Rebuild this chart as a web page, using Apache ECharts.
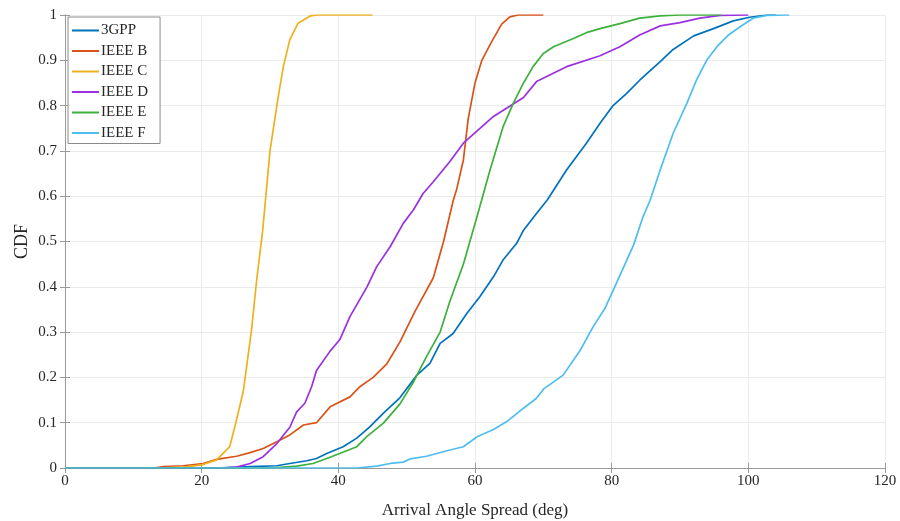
<!DOCTYPE html>
<html>
<head>
<meta charset="utf-8">
<script src="https://cdn.jsdelivr.net/npm/echarts@6/dist/echarts.min.js"></script>
<style>
  html, body { margin: 0; padding: 0; background: #fff; }
  #chart { width: 900px; height: 521px; }
</style>
</head>
<body>
<div id="chart"></div>
<script>
// CDF curves, [angle spread (deg), CDF]
const gpp3 = [[0,0],[22,0],[27.1,0.003],[31,0.005],[32.9,0.01],[35.4,0.016],[36.8,0.021],[38.3,0.032],[40.7,0.047],[42.7,0.066],[44.6,0.091],[46.6,0.121],[49,0.155],[51.5,0.205],[53.4,0.231],[54.9,0.275],[56.8,0.297],[58.8,0.341],[60.7,0.378],[62.7,0.422],[64.1,0.459],[66.1,0.496],[67.1,0.525],[69,0.562],[70.6,0.592],[73.4,0.658],[76.3,0.717],[78.3,0.761],[80.2,0.8],[82.2,0.827],[84.1,0.856],[87.1,0.897],[89,0.924],[92,0.954],[94.9,0.97],[97.8,0.987],[100.2,0.995],[102.7,1],[104,1]]
const ieeeB = [[0,0],[13,0],[14.4,0.003],[17.3,0.005],[20.2,0.01],[22.2,0.019],[25.1,0.026],[27.1,0.034],[29,0.043],[31,0.058],[32.9,0.073],[34.9,0.095],[36.8,0.1],[38.8,0.135],[41.7,0.157],[43.2,0.18],[45.1,0.2],[47.1,0.23],[49,0.278],[51.2,0.345],[53.9,0.42],[55.4,0.5],[56.8,0.59],[57.3,0.614],[58.3,0.68],[59,0.77],[60,0.85],[61,0.9],[62.4,0.94],[63.9,0.98],[65.1,0.996],[66.3,1],[70,1]]
const ieeeC = [[0,0],[14,0],[18,0.003],[20,0.007],[22.2,0.018],[24.1,0.047],[25,0.1],[26.1,0.17],[27.3,0.305],[28.05,0.415],[28.9,0.52],[30,0.7],[31.1,0.81],[31.95,0.886],[32.9,0.945],[34.1,0.982],[35.9,0.998],[37,1],[45,1]]
const ieeeD = [[0,0],[23,0],[25.1,0.002],[27.1,0.01],[29,0.025],[31,0.054],[32.9,0.09],[33.9,0.124],[35.1,0.143],[36.1,0.18],[36.8,0.215],[38.8,0.258],[40.2,0.283],[41.7,0.334],[44.2,0.4],[45.6,0.444],[47.6,0.489],[49.5,0.54],[51,0.57],[52.4,0.606],[53.9,0.632],[56.3,0.676],[58.3,0.717],[62.7,0.776],[67.1,0.818],[69,0.853],[73.4,0.886],[78.3,0.91],[81.2,0.93],[84.1,0.956],[87.1,0.976],[90,0.983],[92.9,0.993],[95.9,0.999],[100,1]]
const ieeeE = [[0,0],[28,0],[31,0.001],[33.9,0.004],[36.3,0.01],[38.3,0.021],[40.2,0.032],[42.7,0.047],[44.2,0.07],[46.6,0.099],[49,0.141],[51,0.19],[52.9,0.246],[54.9,0.3],[56.3,0.367],[58.3,0.45],[60.3,0.555],[62.2,0.658],[64.1,0.753],[65.6,0.805],[67.1,0.85],[68.5,0.886],[70,0.915],[71.5,0.93],[74.4,0.948],[76.3,0.961],[78.3,0.97],[81.2,0.981],[84.1,0.993],[87.1,0.998],[90,1],[96,1]]
const ieeeF = [[0,0],[42.7,0],[45.6,0.004],[47.6,0.01],[49.5,0.013],[50.5,0.02],[52.9,0.026],[55.9,0.038],[58.3,0.047],[60.3,0.069],[62.7,0.085],[64.6,0.102],[67.1,0.132],[69,0.154],[70,0.174],[72.9,0.205],[75.4,0.26],[77.3,0.312],[79,0.352],[80.7,0.408],[83.2,0.492],[84.6,0.555],[85.6,0.59],[87.1,0.658],[89,0.739],[91,0.805],[92.4,0.856],[93.9,0.9],[95.4,0.93],[97.1,0.956],[98.8,0.974],[100.7,0.993],[102.7,0.999],[105.6,1],[106,1]]

const seriesNames = ['3GPP', 'IEEE B', 'IEEE C', 'IEEE D', 'IEEE E', 'IEEE F']
const seriesData = [gpp3, ieeeB, ieeeC, ieeeD, ieeeE, ieeeF]
const colors = ['#0072BD', '#D95319', '#EDB120', '#9B30E0', '#3DB03D', '#4DBEEE']

const font = '"Liberation Serif", "Times New Roman", serif'
const frame = '#9a9a9a'

const chart = echarts.init(document.getElementById('chart'))

const tickStyle = { show: true, inside: true, length: 5, lineStyle: { color: frame } }

chart.setOption({
  animation: false,
  color: colors,
  textStyle: { fontFamily: font },
  grid: { left: 65, right: 15, top: 15, bottom: 53, outerBoundsMode: 'none' },
  legend: {
    orient: 'vertical',
    left: 68,
    top: 17,
    data: seriesNames,
    icon: 'rect',
    itemWidth: 27,
    itemHeight: 2,
    itemGap: 5.5,
    padding: [6, 12, 3, 4],
    borderColor: '#8a8a8a',
    borderWidth: 1,
    backgroundColor: '#fff',
    textStyle: { fontFamily: font, fontSize: 15, color: '#262626', padding: [0, 0, 0, -3] }
  },
  xAxis: [{
    type: 'value',
    min: 0, max: 120, interval: 20,
    name: 'Arrival Angle Spread (deg)',
    nameLocation: 'middle',
    nameGap: 34,
    nameTextStyle: { fontFamily: font, fontSize: 17, color: '#262626' },
    axisLine: { show: true, lineStyle: { color: frame } },
    axisTick: tickStyle,
    axisLabel: { fontFamily: font, fontSize: 15, color: '#262626', margin: 6 },
    splitLine: { show: true, lineStyle: { color: '#ebebeb' } }
  }, {
    type: 'value',
    position: 'top',
    min: 0, max: 120, interval: 20,
    axisLine: { show: true, lineStyle: { color: frame } },
    axisTick: tickStyle,
    axisLabel: { show: false },
    splitLine: { show: false }
  }],
  yAxis: [{
    type: 'value',
    min: 0, max: 1, interval: 0.1,
    name: 'CDF',
    nameLocation: 'middle',
    nameGap: 34,
    nameMoveOverlap: false,
    nameTextStyle: { fontFamily: font, fontSize: 18, color: '#262626' },
    axisLine: { show: true, lineStyle: { color: frame } },
    axisTick: tickStyle,
    axisLabel: { fontFamily: font, fontSize: 15, color: '#262626', margin: 8 },
    splitLine: { show: true, lineStyle: { color: '#ebebeb' } }
  }, {
    type: 'value',
    position: 'right',
    min: 0, max: 1, interval: 0.1,
    axisLine: { show: true, lineStyle: { color: frame } },
    axisTick: tickStyle,
    axisLabel: { show: false },
    splitLine: { show: false }
  }],
  series: seriesNames.map((name, i) => ({
    name: name,
    type: 'line',
    xAxisIndex: 0,
    yAxisIndex: 0,
    data: seriesData[i],
    symbol: 'none',
    lineStyle: { width: 1.7, color: colors[i] },
    itemStyle: { color: colors[i] }
  }))
})
</script>
</body>
</html>
